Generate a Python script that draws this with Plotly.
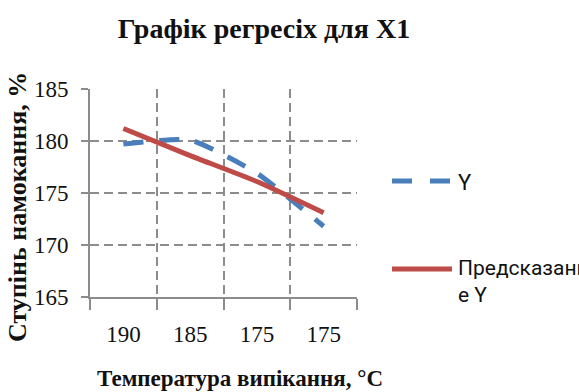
import plotly.graph_objects as go

# Baking temperature categories (labels repeat, so positions are indexed)
categories = ["190", "185", "175", "175"]
positions = [0, 1, 2, 3]

# Observed wetting degree, % and regression-predicted values
y_actual = [179.7, 180.1, 176.9, 171.8]
y_predicted = [181.2, 178.6, 176.1, 173.1]

y_ticks = [165, 170, 175, 180, 185]

blue = "#4a7ebb"
red = "#be4b48"
grid = "#8c8c8c"
serif = "Times New Roman"
sans = "Roboto"

fig = go.Figure()

fig.add_trace(go.Scatter(
    x=positions, y=y_actual, mode="lines", name="Y",
    line=dict(color=blue, width=5, dash="20px,16px", shape="spline", smoothing=0.5),
    showlegend=False,
))
fig.add_trace(go.Scatter(
    x=positions, y=y_predicted, mode="lines", name="Предсказанное Y",
    line=dict(color=red, width=5, shape="spline", smoothing=0.5),
    showlegend=False,
))

fig.update_xaxes(
    range=[-0.5, 3.5],
    tickmode="array", tickvals=positions, ticktext=categories,
    ticks="", showgrid=False,
    ticklabelstandoff=15,
    tickfont=dict(family=serif, size=23, color="#111"),
    showline=True, linecolor=grid, linewidth=2,
    minor=dict(
        tickmode="array", tickvals=[-0.5, 0.5, 1.5, 2.5, 3.5],
        ticks="outside", ticklen=11, tickwidth=2, tickcolor=grid,
        showgrid=True, gridcolor=grid, gridwidth=2, griddash="9px,5px",
    ),
    zeroline=False, fixedrange=True,
)
fig.update_yaxes(
    range=[165, 185],
    tickmode="array", tickvals=y_ticks,
    ticks="outside", ticklen=7, tickwidth=2, tickcolor=grid,
    ticklabelstandoff=8,
    tickfont=dict(family=serif, size=23, color="#111"),
    showgrid=True, gridcolor=grid, gridwidth=2, griddash="9px,5px",
    showline=True, linecolor=grid, linewidth=2,
    zeroline=False, fixedrange=True,
)

W, H = 579, 392
L, R, T, B = 90, 222, 89, 95
pw, ph = W - L - R, H - T - B


def px_x(x):
    return (x - L) / pw


def px_y(y):
    return (H - B - y) / ph


# Legend drawn beside the plot area
fig.add_shape(type="line", xref="paper", yref="paper",
              x0=px_x(392), x1=px_x(452), y0=px_y(181), y1=px_y(181),
              line=dict(color=blue, width=5, dash="20px,18px"))
fig.add_shape(type="line", xref="paper", yref="paper",
              x0=px_x(392), x1=px_x(452), y0=px_y(269), y1=px_y(269),
              line=dict(color=red, width=5))
fig.add_annotation(xref="paper", yref="paper", x=px_x(456), y=px_y(182),
                   xanchor="left", yanchor="middle", showarrow=False,
                   text="Y", font=dict(family=sans, size=22, color="#111"))
fig.add_annotation(xref="paper", yref="paper", x=px_x(456), y=px_y(254),
                   xanchor="left", yanchor="top", showarrow=False, align="left",
                   text="Предсказанно<br>е Y", font=dict(family=sans, size=21, color="#111"))

# Axis titles
fig.add_annotation(xref="paper", yref="paper", x=px_x(17), y=px_y(207),
                   xanchor="center", yanchor="middle", showarrow=False, textangle=-90,
                   text="<b>Ступінь намокання, %</b>",
                   font=dict(family=serif, size=26, color="#111"))
fig.add_annotation(xref="paper", yref="paper", x=px_x(240), y=px_y(378),
                   xanchor="center", yanchor="middle", showarrow=False,
                   text="<b>Температура випікання, °С</b>",
                   font=dict(family=serif, size=23, color="#111"))

fig.update_layout(
    width=W, height=H,
    margin=dict(l=L, r=R, t=T, b=B, autoexpand=False),
    paper_bgcolor="white", plot_bgcolor="white",
    title=dict(text="<b>Графік регресіх для X1</b>", x=264 / W, xanchor="center",
               y=1 - 28 / H, yanchor="middle",
               font=dict(family=serif, size=28, color="#111")),
    showlegend=False,
)

fig.write_html("out.html", config={"displayModeBar": False})
